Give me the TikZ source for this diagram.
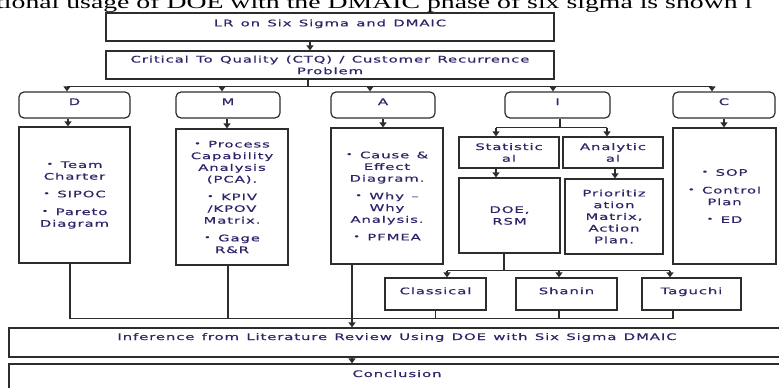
\documentclass[tikz,border=0pt]{standalone}
\usepackage{fontspec}
\usepackage{xcolor}
\usepackage{tikz}
\usetikzlibrary{arrows.meta}
\newfontfamily\flowfont[FakeStretch=1.65,LetterSpace=10,WordSpace=1.3,FakeBold=0.6]{DejaVu Sans}
\newfontfamily\captfont[FakeStretch=1.5]{Liberation Serif}
\definecolor{txtblue}{RGB}{50,35,105}
\definecolor{edge}{RGB}{45,45,45}
\newcommand{\bulmark}{{\fontsize{7}{7}\selectfont\raisebox{1.5pt}{•}}~}

\begin{document}
\begin{tikzpicture}[x=1pt,y=1pt,
  box/.style={draw=edge,line width=1.2pt,font=\flowfont\fontsize{9}{11.7}\selectfont,text=txtblue,align=center,inner sep=0pt},
  phase/.style={box,rounded corners=5pt},
  conn/.style={draw=edge,line width=1.2pt},
  arr/.style={conn,-{Triangle[width=7pt,length=5pt]}},
  capt/.style={font=\captfont\fontsize{18.5}{20}\selectfont,inner sep=0pt,anchor=base west}]
\useasboundingbox (0,0) rectangle (779,-388);
\node[capt] (capt) at (-4,-8.5) {tional usage of DOE with the DMAIC phase of six sigma is shown i};
% top of the flow
\node[box,minimum width=448pt,text height=13.3pt,text depth=14.7pt] (top) at (330,-27) {LR on Six Sigma and DMAIC};
\node[box,minimum width=448pt,minimum height=28pt] (ctq) at (330,-65) {Critical To Quality (CTQ) / Customer Recurrence\\Problem};
% DMAIC phases
\node[phase,minimum width=111pt,text height=13pt,text depth=13pt] (D) at (74.5,-105) {D};
\node[phase,minimum width=104pt,text height=13pt,text depth=13pt] (M) at (228,-105) {M};
\node[phase,minimum width=104pt,text height=13pt,text depth=13pt] (A) at (383,-105) {A};
\node[phase,minimum width=105pt,text height=13pt,text depth=13pt] (I) at (557.5,-105) {I};
\node[phase,minimum width=102pt,text height=13pt,text depth=13pt] (C) at (724,-105) {C};
\node[box,minimum width=111pt,minimum height=136pt] (Dbody) at (74.5,-195) {\bulmark Team\\Charter\\[6pt]\bulmark SIPOC\\[6pt]\bulmark Pareto\\Diagram};
\node[box,minimum width=112pt,minimum height=136pt] (Mbody) at (232,-197) {\bulmark Process\\Capability\\Analysis\\(PCA).\\[6pt]\bulmark KPIV\\/KPOV\\Matrix.\\[6pt]\bulmark Gage\\R\&R};
\node[box,minimum width=112pt,minimum height=136pt] (Abody) at (387,-196) {\bulmark Cause \&\\Effect\\Diagram.\\[6pt]\bulmark Why –\\Why\\Analysis.\\[6pt]\bulmark PFMEA};
\node[box,minimum width=103pt,minimum height=136pt] (Cbody) at (724.5,-196) {\bulmark SOP\\[6pt]\bulmark Control\\Plan\\[6pt]\bulmark ED};
% improve branch
\node[box,minimum width=100pt,minimum height=31pt] (stat) at (509,-152.5) {Statistic\\al};
\node[box,minimum width=100pt,minimum height=31pt] (anal) at (613,-152.5) {Analytic\\al};
\node[box,minimum width=101pt,minimum height=75pt] (doe) at (509.5,-215.5) {DOE,\\RSM};
\node[box,minimum width=98pt,minimum height=75pt] (prior) at (614,-216.5) {Prioritiz\\ation\\Matrix,\\Action\\Plan.};
\node[box,minimum width=101pt,text height=16.2pt,text depth=15.8pt] (classical) at (435.5,-294) {Classical};
\node[box,minimum width=101pt,text height=16.2pt,text depth=15.8pt] (shanin) at (566.5,-294) {Shanin};
\node[box,minimum width=99pt,text height=16.2pt,text depth=15.8pt] (taguchi) at (691.5,-294) {Taguchi};
% bottom of the flow
\node[box,minimum width=776pt,text height=12pt,text depth=17pt] (infer) at (397,-342.5) {Inference from Literature Review Using DOE with Six Sigma DMAIC};
\node[box,minimum width=776pt,text height=13pt,text depth=17pt] (concl) at (397,-379) {Conclusion};
% connectors
\draw[arr] ([xshift=-20pt]top.south) -- ([xshift=-20pt]ctq.north);
\draw[conn] ([xshift=-22pt]ctq.south) -- ++(0,-7) coordinate (bus);
\draw[conn] ([xshift=-7.5pt]D.north |- bus) -- ([xshift=-12pt]C.north |- bus);
\draw[arr] ([xshift=-7.5pt]D.north |- bus) -- ([xshift=-7.5pt]D.north);
\draw[arr] ([xshift=-6pt]M.north |- bus) -- ([xshift=-6pt]M.north);
\draw[arr] ([xshift=-13pt]A.north |- bus) -- ([xshift=-13pt]A.north);
\draw[arr] ([xshift=-4.5pt]I.north |- bus) -- ([xshift=-4.5pt]I.north);
\draw[arr] ([xshift=-12pt]C.north |- bus) -- ([xshift=-12pt]C.north);
\draw[arr] ([xshift=-6.5pt]D.south) -- ([xshift=-6.5pt]D.south |- Dbody.north);
\draw[arr] ([xshift=-1pt]M.south) -- ([xshift=-1pt]M.south |- Mbody.north);
\draw[arr] (A.south) -- (A.south |- Abody.north);
\draw[arr] (C.south) -- (C.south |- Cbody.north);
\draw[conn] ([xshift=2.5pt]I.south) -- ++(0,-9) coordinate (isplit);
\draw[conn] ([xshift=-13pt]stat.north |- isplit) -- ([xshift=-6pt]anal.north |- isplit);
\draw[arr] ([xshift=-13pt]stat.north |- isplit) -- ([xshift=-13pt]stat.north);
\draw[arr] ([xshift=-6pt]anal.north |- isplit) -- ([xshift=-6pt]anal.north);
\draw[arr] ([xshift=-13pt]stat.south) -- ([xshift=-13pt]stat.south |- doe.north);
\draw[arr] ([xshift=2pt]anal.south) -- ([xshift=2pt]anal.south |- prior.north);
\draw[conn] ([xshift=-5.5pt]doe.south) -- ++(0,-17) coordinate (dsplit);
\draw[conn] ([xshift=11.5pt]classical.north |- dsplit) -- ([xshift=-21.5pt]taguchi.north |- dsplit);
\draw[arr] ([xshift=11.5pt]classical.north |- dsplit) -- ([xshift=11.5pt]classical.north);
\draw[arr] ([xshift=-7.5pt]shanin.north |- dsplit) -- ([xshift=-7.5pt]shanin.north);
\draw[arr] ([xshift=-21.5pt]taguchi.north |- dsplit) -- ([xshift=-21.5pt]taguchi.north);
\draw[conn] ([xshift=-4.5pt]Dbody.south) -- ++(0,-55) coordinate (jn);
\draw[conn] (jn) -- ([xshift=-18.5pt]taguchi.south |- jn);
\draw[conn] ([xshift=-4pt]Mbody.south) -- ([xshift=-4pt]Mbody.south |- jn);
\draw[conn] (classical.south) -- (classical.south |- jn);
\draw[conn] ([xshift=-7.5pt]shanin.south) -- ([xshift=-7.5pt]shanin.south |- jn);
\draw[conn] ([xshift=-18.5pt]taguchi.south) -- ([xshift=-18.5pt]taguchi.south |- jn);
\draw[arr] ([xshift=-35pt]Abody.south) -- ([xshift=-35pt]Abody.south |- infer.north);
\draw[arr] ([xshift=-45pt]infer.south) -- ([xshift=-45pt]concl.north);
\end{tikzpicture}
\end{document}
